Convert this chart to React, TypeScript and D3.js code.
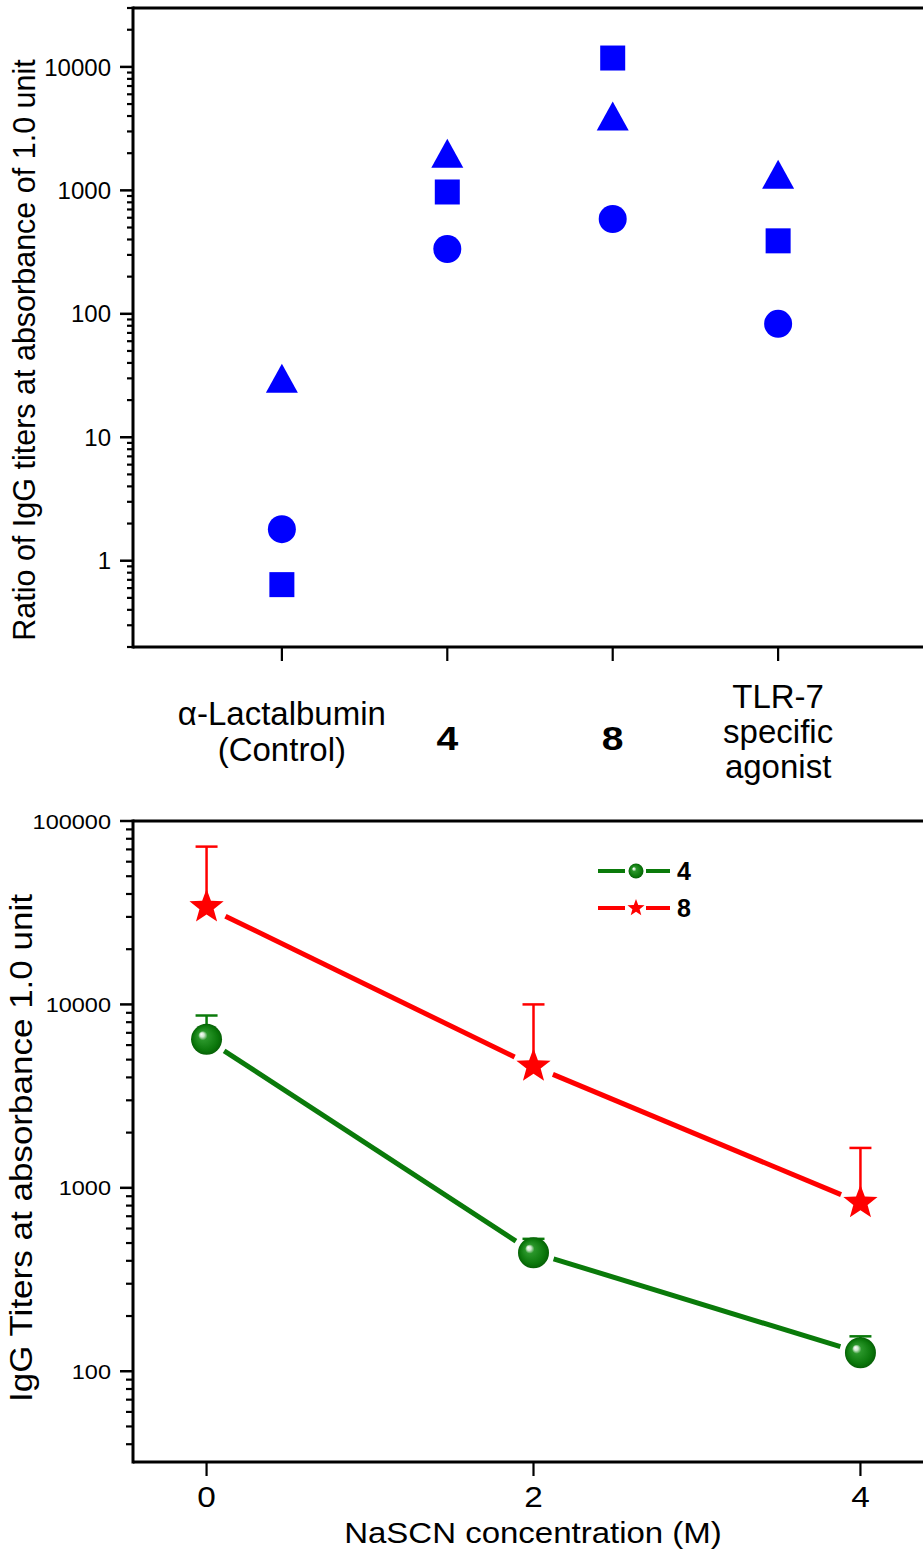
import React from "react";
import * as d3 from "d3";

// ---------- Top chart data ----------
const categories = ["control", "4", "8", "tlr7"];
const triangleValues = [30, 2000, 4000, 1350];
const squareValues = [0.64, 970, 11800, 390];
const circleValues = [1.8, 335, 586, 83];
const topMajorTicks = [1, 10, 100, 1000, 10000];

// ---------- Bottom chart data ----------
const nascn = [0, 2, 4];
const series4 = [6450, 443, 126];
const series4Err = [8700, 527, 155];
const series8 = [34000, 4600, 830];
const series8Err = [72500, 10000, 1650];
const bottomMajorTicks = [100, 1000, 10000, 100000];
const bottomXTicks = [0, 2, 4];

const W = 923;
const H = 1557;
const FONT = "'Liberation Sans', Arial, Helvetica, sans-serif";
const BLUE = "#0000ff";
const GREEN = "#0a7a0a";
const RED = "#ff0000";

function minorTicks(lo: number, hi: number) {
  const out: number[] = [];
  for (let e = Math.floor(Math.log10(lo)); e <= Math.ceil(Math.log10(hi)); e++) {
    for (let m = 2; m <= 9; m++) {
      const v = m * Math.pow(10, e);
      if (v >= lo - 1e-9 && v <= hi + 1e-9) out.push(v);
    }
  }
  return out;
}

function starPath(cx: number, cy: number, R: number, r: number) {
  const pts: string[] = [];
  for (let i = 0; i < 10; i++) {
    const a = -Math.PI / 2 + (i * Math.PI) / 5;
    const rad = i % 2 === 0 ? R : r;
    pts.push(`${cx + rad * Math.cos(a)},${cy + rad * Math.sin(a)}`);
  }
  return "M" + pts.join("L") + "Z";
}

function gappedSegments(pts: [number, number][], gap: number) {
  const segs: [number, number, number, number][] = [];
  for (let i = 0; i < pts.length - 1; i++) {
    const [x1, y1] = pts[i];
    const [x2, y2] = pts[i + 1];
    const dx = x2 - x1, dy = y2 - y1;
    const L = Math.hypot(dx, dy);
    const ux = dx / L, uy = dy / L;
    segs.push([x1 + ux * gap, y1 + uy * gap, x2 - ux * gap, y2 - uy * gap]);
  }
  return segs;
}

export default function App() {
  // top chart scales
  const tL = 133, tTop = 8, tBot = 647, tR = 940;
  const xTop = d3.scalePoint<string>().domain(categories).range([133, 927]).padding(0.9);
  const yTop = d3.scaleLog().domain([0.2, 30000]).range([tBot, tTop]);

  // bottom chart scales
  const bL = 133, bTop = 821, bBot = 1462, bR = 940;
  const xBot = d3.scaleLinear().domain([-0.45, 4.45]).range([133, 934]);
  const yBot = d3.scaleLog().domain([32, 100000]).range([bBot, bTop]);

  const topMinor = minorTicks(0.2, 30000).filter((v) => !topMajorTicks.includes(v));
  const botMinor = minorTicks(32, 100000).filter((v) => !bottomMajorTicks.includes(v));

  const g4pts: [number, number][] = nascn.map((x, i) => [xBot(x), yBot(series4[i])]);
  const g8pts: [number, number][] = nascn.map((x, i) => [xBot(x), yBot(series8[i])]);

  return (
    <svg
      width={W}
      height={H}
      viewBox={`0 0 ${W} ${H}`}
      style={{ position: "absolute", left: 0, top: 0, background: "#fff" }}
      fontFamily={FONT}
    >
      <defs>
        <radialGradient id="sphere" cx="0.5" cy="0.5" r="0.5" fx="0.33" fy="0.33">
          <stop offset="0" stopColor="#ffffff" />
          <stop offset="0.14" stopColor="#cfe8cf" />
          <stop offset="0.3" stopColor="#2a962a" />
          <stop offset="0.8" stopColor="#0b770b" />
          <stop offset="1" stopColor="#066006" />
        </radialGradient>
      </defs>
      <rect x={0} y={0} width={W} height={H} fill="#fff" />

      {/* ================= TOP CHART ================= */}
      <g>
        <line x1={tL} x2={tR} y1={tTop} y2={tTop} stroke="#000" strokeWidth={3} />
        <line x1={tL} x2={tR} y1={tBot} y2={tBot} stroke="#000" strokeWidth={3} />
        <line x1={tL} x2={tL} y1={tTop - 1.5} y2={tBot + 1.5} stroke="#000" strokeWidth={3} />

        {topMajorTicks.map((v) => (
          <g key={"tM" + v}>
            <line x1={tL - 13} x2={tL} y1={yTop(v)} y2={yTop(v)} stroke="#000" strokeWidth={2.5} />
            <text x={tL - 22} y={yTop(v)} dy="0.36em" textAnchor="end" fontSize={24}>
              {String(v)}
            </text>
          </g>
        ))}
        {topMinor.map((v) => (
          <line key={"tm" + v} x1={tL - 6} x2={tL} y1={yTop(v)} y2={yTop(v)} stroke="#000" strokeWidth={2.2} />
        ))}

        {categories.map((c) => (
          <line key={"xt" + c} x1={xTop(c)!} x2={xTop(c)!} y1={tBot} y2={tBot + 14} stroke="#000" strokeWidth={2.2} />
        ))}

        <text x={xTop("control")!} y={725} textAnchor="middle" fontSize={33}>
          α-Lactalbumin
        </text>
        <text x={xTop("control")!} y={761} textAnchor="middle" fontSize={33}>
          (Control)
        </text>
        <text
          transform={`translate(${xTop("4")!},750) scale(1.15,1)`}
          textAnchor="middle"
          fontSize={34}
          fontWeight="bold"
        >
          4
        </text>
        <text
          transform={`translate(${xTop("8")!},750) scale(1.15,1)`}
          textAnchor="middle"
          fontSize={34}
          fontWeight="bold"
        >
          8
        </text>
        <text x={xTop("tlr7")!} y={708} textAnchor="middle" fontSize={33}>
          TLR-7
        </text>
        <text x={xTop("tlr7")!} y={743} textAnchor="middle" fontSize={33}>
          specific
        </text>
        <text x={xTop("tlr7")!} y={778} textAnchor="middle" fontSize={33}>
          agonist
        </text>

        <text transform={`translate(35, 350) rotate(-90)`} textAnchor="middle" fontSize={30.5}>
          Ratio of IgG titers at absorbance of 1.0 unit
        </text>

        {categories.map((c, i) => {
          const x = xTop(c)!;
          const yT = yTop(triangleValues[i]);
          return (
            <path
              key={"tri" + c}
              d={`M${x},${yT - 14.5}L${x + 16},${yT + 14.5}L${x - 16},${yT + 14.5}Z`}
              fill={BLUE}
            />
          );
        })}
        {categories.map((c, i) => {
          const x = xTop(c)!;
          const y = yTop(squareValues[i]);
          return <rect key={"sq" + c} x={x - 12.5} y={y - 12.5} width={25} height={25} fill={BLUE} />;
        })}
        {categories.map((c, i) => (
          <circle key={"ci" + c} cx={xTop(c)!} cy={yTop(circleValues[i])} r={14} fill={BLUE} />
        ))}
      </g>

      {/* ================= BOTTOM CHART ================= */}
      <g>
        <line x1={bL} x2={bR} y1={bTop} y2={bTop} stroke="#000" strokeWidth={3} />
        <line x1={bL} x2={bR} y1={bBot} y2={bBot} stroke="#000" strokeWidth={3} />
        <line x1={bL} x2={bL} y1={bTop - 1.5} y2={bBot + 1.5} stroke="#000" strokeWidth={3} />

        {bottomMajorTicks.map((v) => (
          <g key={"bM" + v}>
            <line x1={bL - 13} x2={bL} y1={yBot(v)} y2={yBot(v)} stroke="#000" strokeWidth={2.5} />
            <text
              transform={`translate(${bL - 22},${yBot(v)}) scale(1.12,1)`}
              dy="0.36em"
              textAnchor="end"
              fontSize={21}
            >
              {String(v)}
            </text>
          </g>
        ))}
        {botMinor.map((v) => (
          <line key={"bm" + v} x1={bL - 7} x2={bL} y1={yBot(v)} y2={yBot(v)} stroke="#000" strokeWidth={2.2} />
        ))}

        {bottomXTicks.map((v) => (
          <g key={"bx" + v}>
            <line x1={xBot(v)} x2={xBot(v)} y1={bBot} y2={bBot + 14} stroke="#000" strokeWidth={2.2} />
            <text
              transform={`translate(${xBot(v)},1507) scale(1.15,1)`}
              textAnchor="middle"
              fontSize={29}
            >
              {String(v)}
            </text>
          </g>
        ))}

        <text transform="translate(533,1543) scale(1.1,1)" textAnchor="middle" fontSize={30}>
          NaSCN concentration (M)
        </text>
        <text transform={`translate(32, 1148) rotate(-90) scale(1.13,1)`} textAnchor="middle" fontSize={31}>
          IgG Titers at absorbance 1.0 unit
        </text>

        {gappedSegments(g8pts, 21).map((s, i) => (
          <line key={"r" + i} x1={s[0]} y1={s[1]} x2={s[2]} y2={s[3]} stroke={RED} strokeWidth={5} />
        ))}
        {gappedSegments(g4pts, 21).map((s, i) => (
          <line key={"g" + i} x1={s[0]} y1={s[1]} x2={s[2]} y2={s[3]} stroke={GREEN} strokeWidth={5} />
        ))}

        {nascn.map((x, i) => (
          <g key={"e8" + i} stroke={RED} strokeWidth={2.5}>
            <line x1={xBot(x)} x2={xBot(x)} y1={yBot(series8[i])} y2={yBot(series8Err[i])} />
            <line x1={xBot(x) - 11} x2={xBot(x) + 11} y1={yBot(series8Err[i])} y2={yBot(series8Err[i])} />
          </g>
        ))}
        {nascn.map((x, i) => (
          <g key={"e4" + i} stroke={GREEN} strokeWidth={2.5}>
            <line x1={xBot(x)} x2={xBot(x)} y1={yBot(series4[i])} y2={yBot(series4Err[i])} />
            <line x1={xBot(x) - 11} x2={xBot(x) + 11} y1={yBot(series4Err[i])} y2={yBot(series4Err[i])} />
          </g>
        ))}

        {g8pts.map((p, i) => (
          <path key={"st" + i} d={starPath(p[0], p[1], 18, 7.5)} fill={RED} />
        ))}
        {g4pts.map((p, i) => (
          <circle key={"sp" + i} cx={p[0]} cy={p[1]} r={15.5} fill="url(#sphere)" />
        ))}

        <g>
          <line x1={598} x2={625} y1={871} y2={871} stroke={GREEN} strokeWidth={4} />
          <line x1={646} x2={670} y1={871} y2={871} stroke={GREEN} strokeWidth={4} />
          <circle cx={636} cy={871} r={7.5} fill="url(#sphere)" />
          <text x={677} y={871} dy="0.36em" fontSize={25} fontWeight="bold">
            4
          </text>
          <line x1={598} x2={625} y1={908} y2={908} stroke={RED} strokeWidth={4} />
          <line x1={646} x2={670} y1={908} y2={908} stroke={RED} strokeWidth={4} />
          <path d={starPath(636, 908, 9, 3.8)} fill={RED} />
          <text x={677} y={908} dy="0.36em" fontSize={25} fontWeight="bold">
            8
          </text>
        </g>
      </g>
    </svg>
  );
}
